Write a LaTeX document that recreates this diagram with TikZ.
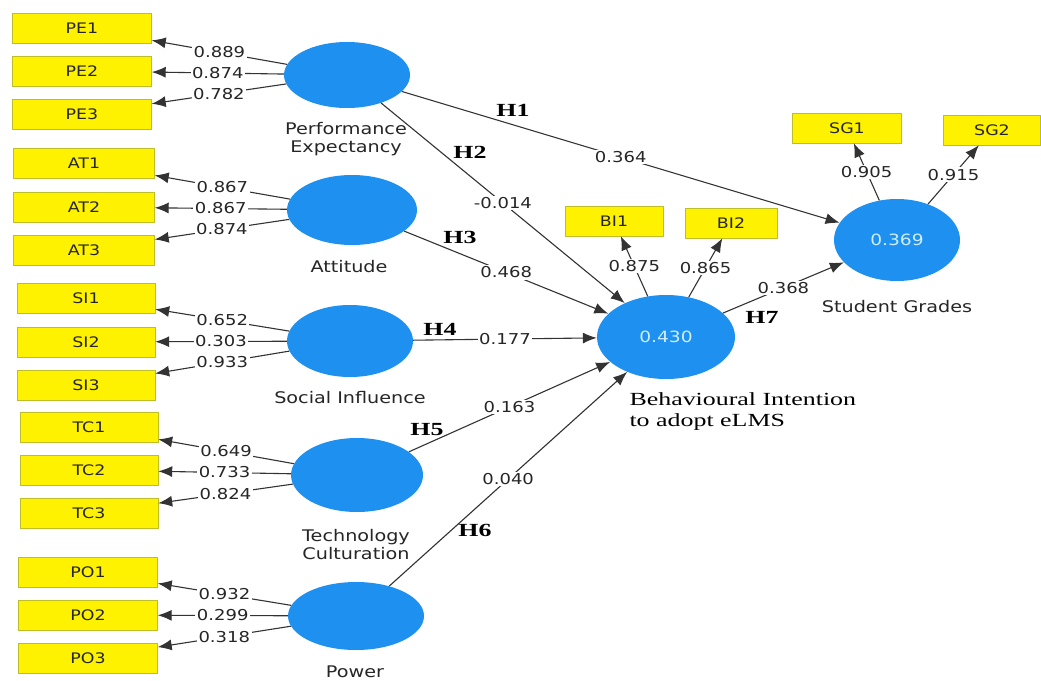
\documentclass[tikz,border=0pt]{standalone}
\usepackage{fontspec}
\setmainfont{Liberation Serif}[FakeStretch=1.4]
\newfontfamily\lblfont{DejaVu Sans}[FakeStretch=1.2]
\usetikzlibrary{shapes.geometric}
\usetikzlibrary{arrows.meta}

\definecolor{itemline}{RGB}{190,190,40}
\definecolor{lvblue}{RGB}{30,144,240}
\definecolor{lvtext}{RGB}{205,238,255}

\begin{document}
\begin{tikzpicture}[x=1pt, y=-1pt,
  item/.style={draw=itemline, fill=yellow, minimum height=30pt, inner sep=0pt,
    text=black!85, font=\lblfont\fontsize{14.5}{16}\selectfont},
  lv/.style={ellipse, fill=lvblue, inner sep=0pt, text=lvtext,
    font=\lblfont\fontsize{15.5}{18}\selectfont},
  load/.style={draw=black!80, line width=1.1pt,
    -{Latex[length=14pt,width=11pt]}},
  val/.style={fill=white, inner sep=1.5pt, text=black!85,
    font=\lblfont\fontsize{15}{18}\selectfont},
  lvname/.style={align=center, text=black!85, font=\lblfont\fontsize{16}{18}\selectfont},
  hyp/.style={font=\bfseries\fontsize{18.5}{20}\selectfont}]

\fill[white] (0,0) rectangle (1041,680);
\useasboundingbox (0,0) rectangle (1041,680);

% indicators
\node[item, minimum width=139pt] (pe1) at (82,28) {PE1};
\node[item, minimum width=139pt] (pe2) at (82,71) {PE2};
\node[item, minimum width=139pt] (pe3) at (82,114) {PE3};
\node[item, minimum width=141pt] (at1) at (84,163) {AT1};
\node[item, minimum width=141pt] (at2) at (84,207) {AT2};
\node[item, minimum width=141pt] (at3) at (84,250) {AT3};
\node[item, minimum width=138pt] (si1) at (86,298) {SI1};
\node[item, minimum width=138pt] (si2) at (86,342) {SI2};
\node[item, minimum width=138pt] (si3) at (86,385) {SI3};
\node[item, minimum width=138pt] (tc1) at (89,427) {TC1};
\node[item, minimum width=138pt] (tc2) at (89,470) {TC2};
\node[item, minimum width=138pt] (tc3) at (89,513) {TC3};
\node[item, minimum width=139pt] (po1) at (88,572) {PO1};
\node[item, minimum width=139pt] (po2) at (88,615) {PO2};
\node[item, minimum width=139pt] (po3) at (88,658) {PO3};
\node[item, minimum width=98pt] (bi1) at (614,221) {BI1};
\node[item, minimum width=92pt] (bi2) at (731,223) {BI2};
\node[item, minimum width=109pt] (sg1) at (847,128) {SG1};
\node[item, minimum width=97pt] (sg2) at (992,130) {SG2};

% latent variables
\node[lv, minimum width=126pt, minimum height=66pt] (pe) at (347,75) {};
\node[lv, minimum width=130pt, minimum height=70pt] (at) at (352,210) {};
\node[lv, minimum width=126pt, minimum height=72pt] (si) at (350,341) {};
\node[lv, minimum width=132pt, minimum height=74pt] (tc) at (357,475) {};
\node[lv, minimum width=136pt, minimum height=68pt] (po) at (356,616) {};
\node[lv, minimum width=138pt, minimum height=84pt] (bi) at (666,337) {0.430};
\node[lv, minimum width=126pt, minimum height=82pt] (sg) at (897,240) {0.369};

\node[lvname] (pename) at (346,139) {Performance\\Expectancy};
\node[lvname] (atname) at (349,267) {Attitude};
\node[lvname] (siname) at (350,398) {Social Influence};
\node[lvname] (tcname) at (356,545) {Technology\\Culturation};
\node[lvname] (poname) at (355,672) {Power};
\node[lvname] (sgname) at (897,307) {Student Grades};
\node[anchor=west, align=left, font=\fontsize{18.5}{21}\selectfont] (biname) at (626,412)
  {Behavioural Intention\\to adopt eLMS};

% outer loadings
\draw[load] (pe) -- node[val] {0.889} (pe1);
\draw[load] (pe) -- node[val] {0.874} (pe2);
\draw[load] (pe) -- node[val] {0.782} (pe3);
\draw[load] (at) -- node[val] {0.867} (at1);
\draw[load] (at) -- node[val] {0.867} (at2);
\draw[load] (at) -- node[val] {0.874} (at3);
\draw[load] (si) -- node[val] {0.652} (si1);
\draw[load] (si) -- node[val] {0.303} (si2);
\draw[load] (si) -- node[val] {0.933} (si3);
\draw[load] (tc) -- node[val] {0.649} (tc1);
\draw[load] (tc) -- node[val] {0.733} (tc2);
\draw[load] (tc) -- node[val] {0.824} (tc3);
\draw[load] (po) -- node[val] {0.932} (po1);
\draw[load] (po) -- node[val] {0.299} (po2);
\draw[load] (po) -- node[val] {0.318} (po3);
\draw[load] (bi) -- node[val] {0.875} (bi1);
\draw[load] (bi) -- node[val] {0.865} (bi2);
\draw[load] (sg) -- node[val] {0.905} (sg1);
\draw[load] (sg) -- node[val] {0.915} (sg2);

% path coefficients
\draw[load] (pe) -- node[val] {0.364} (sg);
\draw[load] (pe) -- node[val] {-0.014} (bi);
\draw[load] (at) -- node[val] {0.468} (bi);
\draw[load] (si) -- node[val] {0.177} (bi);
\draw[load] (tc) -- node[val] {0.163} (bi);
\draw[load] (po) -- node[val] {0.040} (bi);
\draw[load] (bi) -- node[val] {0.368} (sg);

% hypotheses
\node[hyp] (h1) at (513,110) {H1};
\node[hyp] (h2) at (470,152) {H2};
\node[hyp] (h3) at (460,237) {H3};
\node[hyp] (h4) at (440,329) {H4};
\node[hyp] (h5) at (427,430) {H5};
\node[hyp] (h6) at (475,530) {H6};
\node[hyp] (h7) at (762,317) {H7};

\end{tikzpicture}
\end{document}
